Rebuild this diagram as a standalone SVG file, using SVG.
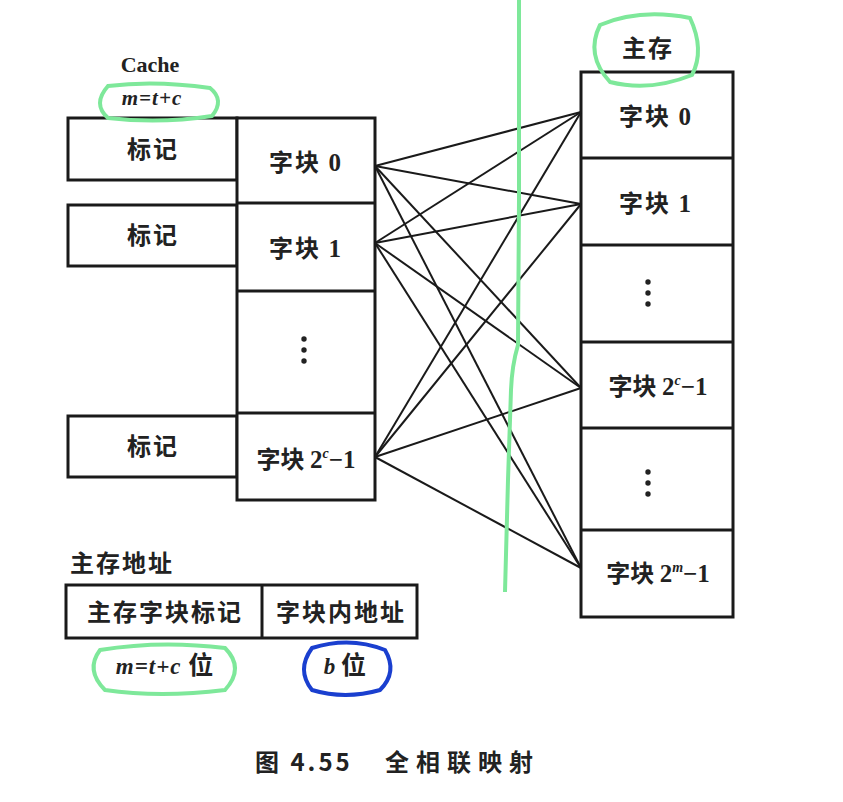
<svg xmlns="http://www.w3.org/2000/svg" width="843" height="802" viewBox="0 0 843 802">
<style>
.box{fill:#fff;stroke:#1a1a1a;stroke-width:3}
.div{stroke:#1a1a1a;stroke-width:3}
.zh{font-family:"Noto Sans CJK SC",sans-serif;font-weight:bold;font-size:24px;fill:#222;text-anchor:middle;letter-spacing:2px}
.num{font-family:"Liberation Serif",serif;font-size:25px}
.en{font-family:"Liberation Serif",serif;font-weight:bold;fill:#222}
.it{font-family:"Liberation Serif",serif;font-weight:bold;font-style:italic;fill:#222}
.dot{fill:#222}
.con line{stroke:#1a1a1a;stroke-width:2}
.g{fill:none;stroke:#7ee89a;stroke-width:4}
.b{fill:none;stroke:#1a3fcf;stroke-width:4}
</style>
<rect width="843" height="802" fill="#fff"/>
<g id="cache-label">
<text class="en" x="150" y="72" font-size="22" text-anchor="middle">Cache</text>
<text class="it" x="152" y="105" font-size="21" text-anchor="middle" letter-spacing="1">m=t+c</text>
</g>
<g id="tag0"><rect class="box" x="68" y="118" width="169" height="62"/><text class="zh" x="153" y="158">标记</text></g>
<g id="tag1"><rect class="box" x="68" y="205" width="169" height="61"/><text class="zh" x="153" y="244">标记</text></g>
<g id="tag2"><rect class="box" x="68" y="416" width="169" height="61"/><text class="zh" x="153" y="455">标记</text></g>
<g id="cache">
<rect class="box" x="237" y="118" width="138" height="382"/>
<line class="div" x1="237" y1="203" x2="375" y2="203"/>
<line class="div" x1="237" y1="291" x2="375" y2="291"/>
<line class="div" x1="237" y1="413" x2="375" y2="413"/>
<text class="zh" x="306" y="171">字块 <tspan class="num">0</tspan></text>
<text class="zh" x="306" y="257">字块 <tspan class="num">1</tspan></text>
<circle class="dot" cx="304" cy="339" r="2.7"/><circle class="dot" cx="304" cy="350" r="2.7"/><circle class="dot" cx="304" cy="361" r="2.7"/>
<text class="zh" x="306" y="468" style="letter-spacing:0">字块 <tspan class="num">2</tspan><tspan class="num" font-style="italic" style="font-size:14px" dy="-10">c</tspan><tspan class="num" dy="10">−1</tspan></text>
</g>
<g id="mem-label"><text class="zh" x="648" y="57">主存</text></g>
<g id="mem">
<rect class="box" x="581" y="72" width="152" height="545"/>
<line class="div" x1="581" y1="158" x2="733" y2="158"/>
<line class="div" x1="581" y1="245" x2="733" y2="245"/>
<line class="div" x1="581" y1="342" x2="733" y2="342"/>
<line class="div" x1="581" y1="428" x2="733" y2="428"/>
<line class="div" x1="581" y1="530" x2="733" y2="530"/>
<text class="zh" x="656" y="125">字块 <tspan class="num">0</tspan></text>
<text class="zh" x="656" y="212">字块 <tspan class="num">1</tspan></text>
<circle class="dot" cx="648" cy="282" r="2.7"/><circle class="dot" cx="648" cy="293" r="2.7"/><circle class="dot" cx="648" cy="304" r="2.7"/>
<text class="zh" x="658" y="395" style="letter-spacing:0">字块 <tspan class="num">2</tspan><tspan class="num" font-style="italic" style="font-size:14px" dy="-10">c</tspan><tspan class="num" dy="10">−1</tspan></text>
<circle class="dot" cx="648" cy="472" r="2.7"/><circle class="dot" cx="648" cy="483" r="2.7"/><circle class="dot" cx="648" cy="494" r="2.7"/>
<text class="zh" x="658" y="582" style="letter-spacing:0">字块 <tspan class="num">2</tspan><tspan class="num" font-style="italic" style="font-size:14px" dy="-10">m</tspan><tspan class="num" dy="10">−1</tspan></text>
</g>
<g id="connectors" class="con">
<line x1="375" y1="166" x2="581" y2="112"/>
<line x1="375" y1="166" x2="581" y2="204"/>
<line x1="375" y1="166" x2="581" y2="388"/>
<line x1="375" y1="166" x2="581" y2="568"/>
<line x1="375" y1="243" x2="581" y2="112"/>
<line x1="375" y1="243" x2="581" y2="204"/>
<line x1="375" y1="243" x2="581" y2="388"/>
<line x1="375" y1="243" x2="581" y2="568"/>
<line x1="375" y1="457" x2="581" y2="112"/>
<line x1="375" y1="457" x2="581" y2="204"/>
<line x1="375" y1="457" x2="581" y2="388"/>
<line x1="375" y1="457" x2="581" y2="568"/>
</g>
<g id="addr-label"><text class="zh" x="70" y="572" style="text-anchor:start">主存地址</text></g>
<g id="addr">
<rect class="box" x="66" y="585" width="351" height="53"/>
<line class="div" x1="262" y1="585" x2="262" y2="638"/>
<text class="zh" x="165" y="621">主存字块标记</text>
<text class="zh" x="341" y="621">字块内地址</text>
</g>
<g id="addr-bits">
<text class="it" x="165" y="674" font-size="23" text-anchor="middle" letter-spacing="1">m=t+c <tspan font-family="Noto Sans CJK SC" font-style="normal" font-size="25">位</tspan></text>
<text class="it" x="345" y="674" font-size="23" text-anchor="middle">b <tspan font-family="Noto Sans CJK SC" font-style="normal" font-size="25">位</tspan></text>
</g>
<g id="caption">
<text class="zh" x="255" y="771" style="text-anchor:start;letter-spacing:3px">图 4.55</text>
<text class="zh" x="385" y="771" style="text-anchor:start;letter-spacing:7px">全相联映射</text>
</g>
<g id="annotations">
<path class="g" d="M519,0 L519,200 L518,345 Q512,365 511,390 L508,480 L505,592"/>
<path class="g" d="M108,86 Q155,80 210,88 Q225,100 212,116 Q160,124 108,118 Q92,104 108,86 Z"/>
<path class="g" d="M600,25 Q640,8 690,18 Q705,50 692,75 Q650,92 610,82 Q585,55 600,25 Z"/>
<path class="g" d="M100,650 Q160,640 225,648 Q245,668 225,690 Q160,698 105,690 Q85,670 100,650 Z"/>
<path class="b" d="M312,648 Q350,636 385,650 Q398,672 380,690 Q345,700 312,690 Q296,670 312,648 Z"/>
</g>
</svg>
